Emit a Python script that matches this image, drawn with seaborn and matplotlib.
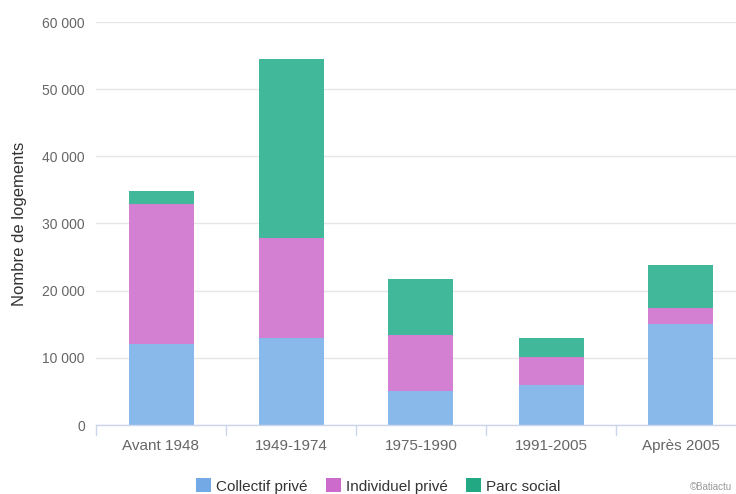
import matplotlib
matplotlib.use("Agg")
import matplotlib.pyplot as plt
import seaborn as sns
import pandas as pd
import numpy as np
from matplotlib.patches import Patch

categories = ["Avant 1948", "1949-1974", "1975-1990", "1991-2005", "Après 2005"]
collectif = [12000, 13000, 5100, 6000, 15000]
individuel = [20900, 14900, 8300, 4100, 2450]
parc_social = [1900, 26600, 8300, 2900, 6350]
series_names = ["Collectif privé", "Individuel privé", "Parc social"]
yticks = [0, 10000, 20000, 30000, 40000, 50000, 60000]

bar_colors = ["#89b9ea", "#d480d2", "#42b89b"]
legend_colors = ["#73aae6", "#cc6bcc", "#22a882"]

sns.set_theme(style="white")
plt.rcParams["font.family"] = ["Liberation Sans", "DejaVu Sans"]

c1 = np.array(collectif)
c2 = c1 + np.array(individuel)
c3 = c2 + np.array(parc_social)
df = pd.DataFrame({"cat": categories, "s1": c1, "s2": c2, "s3": c3})

fig = plt.figure(figsize=(7.36, 4.94), dpi=100)
ax = fig.add_axes([96/736, 69/494, 650/736, 403/494])

for col, color in zip(["s3", "s2", "s1"], bar_colors[::-1]):
    sns.barplot(data=df, x="cat", y=col, color=color, width=0.5,
                saturation=1, ax=ax, linewidth=0, order=categories)

ax.set_ylim(0, 60000)
ax.set_xlim(-0.5, 4.5)
ax.set_yticks(yticks)
ax.set_yticklabels([f"{v:,}".replace(",", " ") for v in yticks],
                   fontsize=10, color="#666666")
ax.tick_params(axis="y", length=0, pad=8)
ax.tick_params(axis="x", length=0, pad=10, labelsize=11, labelcolor="#666666")
ax.grid(axis="y", color="#e6e6e6", linewidth=1)
ax.set_axisbelow(True)
for s in ["top", "right", "left"]:
    ax.spines[s].set_visible(False)
ax.spines["bottom"].set_color("#ccd6eb")
ax.spines["bottom"].set_linewidth(1)
for b in [0.5, 1.5, 2.5, 3.5, -0.5]:
    ax.plot([b, b], [0, -1500], color="#ccd6eb", lw=1, clip_on=False,
            transform=ax.transData)
ax.set_xlabel("")
ax.set_ylabel("Nombre de logements", fontsize=12, color="#333333", labelpad=11)

handles = [Patch(facecolor=c, edgecolor="none") for c in legend_colors]
leg = fig.legend(handles, series_names, loc="center", bbox_to_anchor=(378/736, 1 - 486/494),
                 ncol=3, frameon=False, fontsize=11, handlelength=1.0, handleheight=1.0,
                 handletextpad=0.3, columnspacing=1.2)
for t in leg.get_texts():
    t.set_color("#333333")

fig.text(690/736, 1 - 487/494, "©Batiactu", fontsize=7, color="#999999", va="center")

fig.savefig("out.png", dpi=100)
